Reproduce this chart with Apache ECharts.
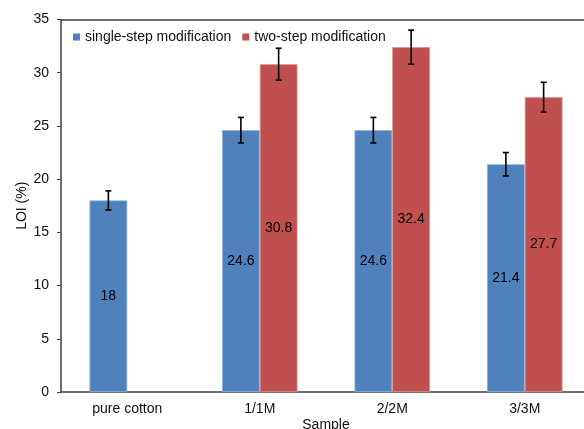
<!DOCTYPE html>
<html>
<head>
<meta charset="utf-8">
<title>LOI</title>
<script src="https://cdn.jsdelivr.net/npm/echarts@6/dist/echarts.min.js"></script>
<style>
  html, body { margin: 0; padding: 0; background: #fff; }
  #main { width: 584px; height: 429px; }
</style>
</head>
<body>
<div id="main"></div>
<script>
// samples on the x axis
var samples = ["pure cotton", "1/1M", "2/2M", "3/3M"];
// LOI values (%)
var singleStep = [18, 24.6, 24.6, 21.4];
var twoStep = [null, 30.8, 32.4, 27.7];
// error bar half heights
var singleErr = [0.9, 1.2, 1.2, 1.1];
var twoErr = [null, 1.5, 1.6, 1.4];
var yTicks = [0, 5, 10, 15, 20, 25, 30, 35];

var font = "Liberation Sans, Arial, sans-serif";
var gap = 0.43;
var axisColor = "#404040";

// error bars drawn over each bar, seriesPos 0 = left bar, 1 = right bar
function errorSeries(values, errs, seriesPos) {
  var data = [];
  for (var i = 0; i < values.length; i++) {
    if (values[i] == null) continue;
    data.push([i, values[i] - errs[i], values[i] + errs[i]]);
  }
  return {
    type: "custom",
    silent: true,
    z: 10,
    data: data,
    renderItem: function (params, api) {
      var cat = api.value(0);
      var low = api.coord([cat, api.value(1)]);
      var high = api.coord([cat, api.value(2)]);
      var bandW = api.size([1, 0])[0];
      var barW = bandW * (1 - gap) / 2;
      var x = low[0] + (seriesPos === 0 ? -barW / 2 : barW / 2);
      var cap = 3;
      var style = { stroke: "#000", lineWidth: 1.6 };
      return {
        type: "group",
        children: [
          { type: "line", shape: { x1: x, y1: high[1], x2: x, y2: low[1] }, style: style },
          { type: "line", shape: { x1: x - cap, y1: high[1], x2: x + cap, y2: high[1] }, style: style },
          { type: "line", shape: { x1: x - cap, y1: low[1], x2: x + cap, y2: low[1] }, style: style }
        ]
      };
    }
  };
}

var chart = echarts.init(document.getElementById("main"));
var option = {
  animation: false,
  textStyle: { fontFamily: font },
  // plot runs past the right edge of the picture (cropped figure)
  grid: {
    left: 61,
    top: 19.5,
    right: -7,
    bottom: 37,
    outerBoundsMode: "none"
  },
  legend: {
    left: 68,
    top: 25,
    itemWidth: 7,
    itemHeight: 7,
    itemGap: 11,
    icon: "rect",
    itemStyle: { borderWidth: 0 },
    textStyle: { fontSize: 14, color: "#111", fontFamily: font },
    data: ["single-step modification", "two-step modification"]
  },
  xAxis: [
    {
      type: "category",
      data: samples,
      name: "Sample",
      nameLocation: "middle",
      nameGap: 26,
      nameMoveOverlap: false,
      nameTextStyle: { fontSize: 14, color: "#111" },
      axisLine: { lineStyle: { color: axisColor, width: 1.5 } },
      axisTick: { show: false },
      axisLabel: { fontSize: 14, color: "#111", margin: 10 }
    },
    {
      // top frame line only
      type: "category",
      data: samples,
      position: "top",
      axisLine: { show: true, lineStyle: { color: axisColor, width: 1.5 } },
      axisTick: { show: false },
      axisLabel: { show: false }
    }
  ],
  yAxis: {
    type: "value",
    min: yTicks[0],
    max: yTicks[yTicks.length - 1],
    interval: 5,
    name: "LOI (%)",
    nameLocation: "middle",
    nameGap: 32,
    nameMoveOverlap: false,
    nameTextStyle: { fontSize: 14, color: "#111" },
    axisLine: { show: true, lineStyle: { color: axisColor, width: 1.5 } },
    axisTick: { show: true, length: 4, lineStyle: { color: axisColor } },
    axisLabel: { fontSize: 14, color: "#111", margin: 12 },
    splitLine: { show: false }
  },
  series: [
    {
      name: "single-step modification",
      type: "bar",
      data: singleStep,
      barGap: 0,
      barCategoryGap: gap * 100 + "%",
      itemStyle: { color: "#4F81BD", borderColor: "#8FB0DA", borderWidth: 0.8 },
      label: { show: true, position: "inside", color: "#000", fontSize: 14 }
    },
    {
      name: "two-step modification",
      type: "bar",
      data: twoStep,
      itemStyle: { color: "#C0504D", borderColor: "#DC9391", borderWidth: 0.8 },
      label: { show: true, position: "inside", color: "#000", fontSize: 14 }
    },
    errorSeries(singleStep, singleErr, 0),
    errorSeries(twoStep, twoErr, 1)
  ]
};
chart.setOption(option);
</script>
</body>
</html>
